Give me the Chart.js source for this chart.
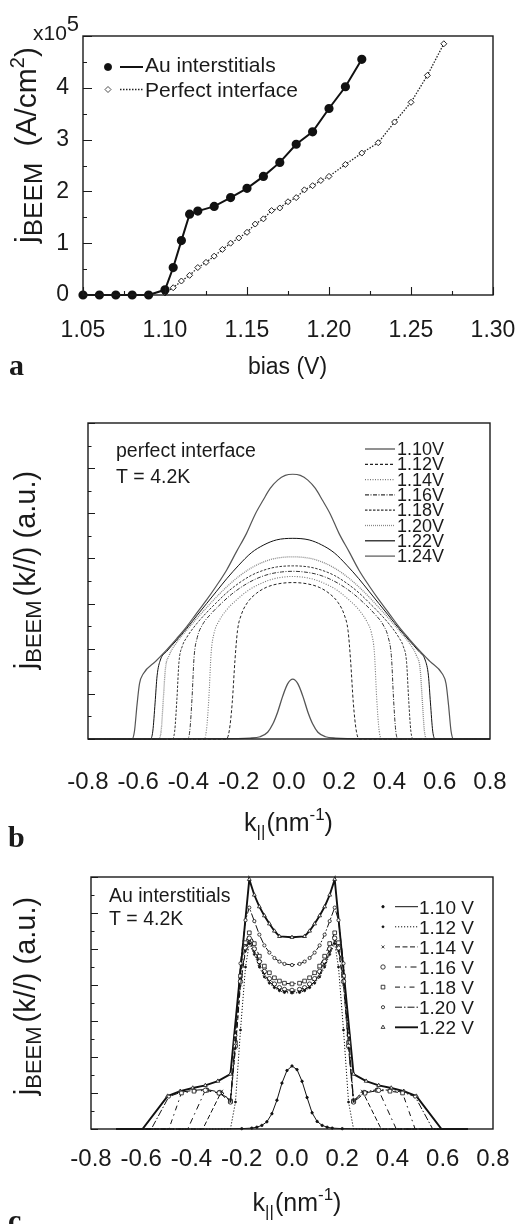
<!DOCTYPE html>
<html><head><meta charset="utf-8">
<script src="https://cdn.jsdelivr.net/npm/chart.js@4.4.1/dist/chart.umd.min.js"></script>
<style>
html,body{margin:0;padding:0;background:#fff;}
#wrap{position:relative;width:531px;height:1224px;overflow:hidden;background:#fff;}
canvas{position:absolute;left:0;}
</style></head><body>
<div id="wrap">
<canvas id="ca" width="531" height="400" style="top:0px"></canvas>
<canvas id="cb" width="531" height="460" style="top:400px"></canvas>
<canvas id="cc" width="531" height="364" style="top:860px"></canvas>
</div>
<script>
// ---------------- DATA ----------------
// Panel a
const seriesA = ['Au interstitials', 'Perfect interface'];
const biasAu = [1.05,1.06,1.07,1.08,1.09,1.10,1.105,1.11,1.115,1.12,1.13,1.14,1.15,1.16,1.17,1.18,1.19,1.20,1.21,1.22];
const jAu    = [0,0,0,0,0,0.1,0.53,1.05,1.56,1.62,1.71,1.88,2.06,2.29,2.56,2.91,3.15,3.60,4.02,4.55];
const biasPerfect = [1.10,1.105,1.11,1.115,1.12,1.125,1.13,1.135,1.14,1.145,1.15,1.155,1.16,1.165,1.17,1.175,1.18,1.185,1.19,1.195,1.20,1.21,1.22,1.23,1.24,1.25,1.26,1.27];
const jPerfect    = [0.04,0.14,0.27,0.38,0.53,0.63,0.75,0.88,1.0,1.1,1.21,1.37,1.47,1.63,1.68,1.8,1.88,2.03,2.11,2.21,2.29,2.52,2.74,2.94,3.34,3.72,4.24,4.85];
const xTicksA = ['1.05','1.10','1.15','1.20','1.25','1.30'];
const yTicksA = ['0','1','2','3','4'];

// Panels b and c share k-axis labels
const kTicks = ['-0.8','-0.6','-0.4','-0.2','0.0','0.2','0.4','0.6','0.8'];

// Panel b (perfect interface)
const voltsB = ['1.10V','1.12V','1.14V','1.16V','1.18V','1.20V','1.22V','1.24V'];
const kB110 = [-0.80,-0.285,-0.155,-0.115,-0.085,-0.065,-0.045,-0.025,-0.005,0.015,0.035,0.055,0.075,0.095,0.115,0.145,0.185,0.315,0.80];
const jB110 = [0,0.01,0.04,0.1,0.3,0.65,1.2,1.9,2.45,2.65,2.45,1.9,1.2,0.65,0.3,0.1,0.04,0.01,0];
const kB112 = [-0.80,-0.25,-0.238,-0.226,-0.215,-0.205,-0.19,-0.165,-0.13,-0.09,-0.04,0.015,0.07,0.12,0.16,0.195,0.22,0.235,0.245,0.256,0.268,0.28,0.80];
const jB112 = [0,0,0.35,1.6,3.5,4.8,5.5,6.05,6.45,6.72,6.88,6.93,6.88,6.72,6.45,6.05,5.5,4.8,3.5,1.6,0.35,0,0];
const kB114 = [-0.80,-0.34,-0.329,-0.319,-0.31,-0.298,-0.28,-0.25,-0.21,-0.16,-0.11,-0.06,0.015,0.09,0.14,0.19,0.24,0.28,0.31,0.328,0.34,0.349,0.359,0.37,0.80];
const jB114 = [0,0,0.35,1.8,3.8,4.7,5.2,5.7,6.15,6.6,6.9,7.1,7.2,7.1,6.9,6.6,6.15,5.7,5.2,4.7,3.8,1.8,0.35,0,0];
const kB116 = [-0.80,-0.405,-0.395,-0.386,-0.378,-0.365,-0.345,-0.31,-0.27,-0.23,-0.18,-0.13,-0.08,-0.03,0.015,0.06,0.11,0.16,0.21,0.26,0.30,0.34,0.375,0.395,0.408,0.416,0.425,0.435,0.80];
const jB116 = [0,0,0.35,1.8,3.6,4.5,5.05,5.55,6.0,6.4,6.8,7.1,7.3,7.4,7.43,7.4,7.3,7.1,6.8,6.4,6.0,5.55,5.05,4.5,3.6,1.8,0.35,0,0];
const kB118 = [-0.80,-0.466,-0.455,-0.446,-0.438,-0.425,-0.407,-0.368,-0.328,-0.288,-0.248,-0.20,-0.15,-0.10,-0.05,0.015,0.08,0.13,0.18,0.23,0.278,0.318,0.358,0.398,0.437,0.455,0.468,0.476,0.485,0.496,0.80];
const jB118 = [0,0,0.35,1.8,3.4,4.1,4.5,5.1,5.6,6.05,6.48,6.9,7.25,7.48,7.62,7.67,7.62,7.48,7.25,6.9,6.48,6.05,5.6,5.1,4.5,4.1,3.4,1.8,0.35,0,0];
const kB120 = [-0.80,-0.52,-0.509,-0.50,-0.492,-0.477,-0.447,-0.407,-0.368,-0.328,-0.288,-0.248,-0.20,-0.15,-0.10,-0.05,0.015,0.08,0.13,0.18,0.23,0.278,0.318,0.358,0.398,0.437,0.477,0.507,0.522,0.53,0.539,0.55,0.80];
const jB120 = [0,0,0.35,1.8,3.1,3.7,4.28,4.82,5.33,5.82,6.3,6.74,7.2,7.58,7.85,8.01,8.07,8.01,7.85,7.58,7.2,6.74,6.3,5.82,5.33,4.82,4.28,3.7,3.1,1.8,0.35,0,0];
const kB122 = [-0.80,-0.552,-0.542,-0.533,-0.525,-0.512,-0.487,-0.447,-0.407,-0.368,-0.328,-0.288,-0.248,-0.20,-0.15,-0.10,-0.05,0.015,0.08,0.13,0.18,0.23,0.278,0.318,0.358,0.398,0.437,0.477,0.517,0.542,0.555,0.563,0.572,0.582,0.80];
const jB122 = [0,0,0.35,1.6,2.8,3.5,3.88,4.38,4.9,5.45,6.0,6.55,7.1,7.7,8.25,8.6,8.82,8.89,8.82,8.6,8.25,7.7,7.1,6.55,6.0,5.45,4.9,4.38,3.88,3.5,2.8,1.6,0.35,0,0];
const kB124 = [-0.80,-0.625,-0.615,-0.605,-0.595,-0.58,-0.53,-0.487,-0.447,-0.407,-0.368,-0.328,-0.288,-0.248,-0.209,-0.169,-0.135,-0.102,-0.075,-0.045,-0.015,0.015,0.045,0.075,0.105,0.132,0.165,0.199,0.239,0.278,0.318,0.358,0.398,0.437,0.477,0.517,0.56,0.61,0.625,0.635,0.645,0.655,0.80];
const jB124 = [0,0,0.35,1.5,2.45,2.89,3.45,3.95,4.45,4.98,5.57,6.16,6.8,7.49,8.3,9.11,9.95,10.6,11.1,11.47,11.68,11.73,11.68,11.47,11.1,10.6,9.95,9.11,8.3,7.49,6.8,6.16,5.57,4.98,4.45,3.95,3.45,2.89,2.45,1.5,0.35,0,0];

// Panel c (Au interstitials)
const voltsC = ['1.10 V','1.12 V','1.14 V','1.16 V','1.18 V','1.20 V','1.22 V'];
const kC110 = [-0.70,-0.50,-0.30,-0.20,-0.16,-0.14,-0.12,-0.10,-0.08,-0.06,-0.04,-0.02,0.00,0.02,0.04,0.06,0.08,0.10,0.12,0.14,0.16,0.20,0.30,0.50,0.70];
const jC110 = [0,0,0,0.02,0.05,0.1,0.2,0.4,0.85,1.6,2.55,3.25,3.5,3.3,2.65,1.75,0.9,0.42,0.2,0.1,0.05,0.02,0,0,0];
const kC112 = [-0.70,-0.50,-0.30,-0.245,-0.225,-0.205,-0.185,-0.17,-0.15,-0.13,-0.11,-0.09,-0.07,-0.05,-0.03,0.00,0.03,0.05,0.07,0.09,0.11,0.13,0.15,0.17,0.185,0.205,0.225,0.245,0.30,0.50,0.70];
const jC112 = [0,0,0,0,1.5,5.5,9.0,10.3,9.7,9.0,8.45,8.1,7.85,7.68,7.58,7.55,7.58,7.68,7.85,8.1,8.45,9.0,9.7,10.3,9.0,5.5,1.5,0,0,0,0];
const kC114 = [-0.70,-0.50,-0.355,-0.28,-0.245,-0.225,-0.205,-0.185,-0.17,-0.15,-0.13,-0.11,-0.09,-0.07,-0.05,-0.03,0.00,0.03,0.05,0.07,0.09,0.11,0.13,0.15,0.17,0.185,0.205,0.225,0.245,0.28,0.355,0.50,0.70];
const jC114 = [0,0,0,2.1,1.5,4.5,8.0,9.9,10.45,9.85,9.15,8.6,8.2,7.92,7.75,7.65,7.62,7.65,7.75,7.92,8.2,8.6,9.15,9.85,10.45,9.9,8.0,4.5,1.5,2.1,0,0,0];
const kC116 = [-0.70,-0.50,-0.415,-0.345,-0.29,-0.245,-0.225,-0.205,-0.185,-0.17,-0.15,-0.13,-0.11,-0.09,-0.07,-0.05,-0.03,0.00,0.03,0.05,0.07,0.09,0.11,0.13,0.15,0.17,0.185,0.205,0.225,0.245,0.29,0.345,0.415,0.50,0.70];
const jC116 = [0,0,0,2.15,2.0,1.5,4.6,8.2,10.05,10.6,10.0,9.3,8.75,8.35,8.05,7.85,7.75,7.7,7.75,7.85,8.05,8.35,8.75,9.3,10.0,10.6,10.05,8.2,4.6,1.5,2.0,2.15,0,0,0];
const kC118 = [-0.70,-0.49,-0.44,-0.39,-0.34,-0.29,-0.245,-0.225,-0.205,-0.185,-0.17,-0.15,-0.13,-0.11,-0.09,-0.07,-0.05,-0.03,0.00,0.03,0.05,0.07,0.09,0.11,0.13,0.15,0.17,0.185,0.205,0.225,0.245,0.29,0.34,0.39,0.44,0.49,0.70];
const jC118 = [0,0,2.0,2.1,2.15,2.0,1.55,4.8,8.5,10.35,10.9,10.3,9.6,9.05,8.68,8.4,8.22,8.1,8.06,8.1,8.22,8.4,8.68,9.05,9.6,10.3,10.9,10.35,8.5,4.8,1.55,2.0,2.15,2.1,2.0,0,0];
const kC120 = [-0.70,-0.56,-0.49,-0.44,-0.39,-0.34,-0.29,-0.245,-0.225,-0.205,-0.185,-0.17,-0.15,-0.13,-0.11,-0.09,-0.07,-0.05,-0.03,0.00,0.03,0.05,0.07,0.09,0.11,0.13,0.15,0.17,0.185,0.205,0.225,0.245,0.29,0.34,0.39,0.44,0.49,0.56,0.70];
const jC120 = [0,0,1.8,2.05,2.15,2.2,2.05,1.6,5.2,9.2,11.6,12.3,11.55,10.8,10.2,9.8,9.5,9.3,9.17,9.11,9.17,9.3,9.5,9.8,10.2,10.8,11.55,12.3,11.6,9.2,5.2,1.6,2.05,2.2,2.15,2.05,1.8,0,0];
const kC122 = [-0.70,-0.64,-0.595,-0.495,-0.445,-0.395,-0.345,-0.295,-0.245,-0.17,-0.15,-0.13,-0.11,-0.09,-0.07,-0.05,0.00,0.05,0.07,0.09,0.11,0.13,0.15,0.17,0.245,0.295,0.345,0.395,0.445,0.495,0.595,0.64,0.70];
const jC122 = [0,0,0,1.83,2.1,2.28,2.42,2.66,3.05,13.87,13.0,12.35,11.85,11.4,11.0,10.7,10.65,10.7,11.0,11.4,11.85,12.35,13.0,13.87,3.05,2.66,2.42,2.28,2.1,1.83,0,0,0];

// ---------------- STYLE ----------------
const FONT = "'Liberation Sans', Arial, Helvetica, sans-serif";
const SERIF = "'Liberation Serif', 'Times New Roman', serif";
const INK = '#1a1a1a';
const stylesB = [
  {c:'#555', w:1.3, d:[]},
  {c:'#222', w:1, d:[3,2]},
  {c:'#777', w:1.1, d:[1,1.5]},
  {c:'#333', w:1, d:[4,1.5,1,1.5]},
  {c:'#333', w:1, d:[2.5,1.5]},
  {c:'#888', w:1.3, d:[1,1]},
  {c:'#111', w:1, d:[]},
  {c:'#555', w:1.2, d:[]}
];
const stylesC = [
  {c:'#111', w:1,   d:[],          ps:'circle',   r:1.2, f:'#111'},
  {c:'#111', w:1,   d:[1.2,1.8],   ps:'circle',   r:1,   f:'#111'},
  {c:'#111', w:1,   d:[5,2.5],     ps:'crossRot', r:2,   f:'#111'},
  {c:'#111', w:1,   d:[6,4,1.5,4], ps:'circle',   r:2.2, f:'#fff'},
  {c:'#111', w:1,   d:[5,4,1.5,4], ps:'rect',     r:2.6, f:'#fff'},
  {c:'#111', w:1,   d:[7,2,1.5,2], ps:'circle',   r:1.6, f:'#fff'},
  {c:'#111', w:1.9, d:[],          ps:'triangle', r:2.2, f:'#fff'}
];

const pts = (xs, ys) => xs.map((x, i) => ({x: x, y: ys[i]}));

function rich(ctx, pieces, x, y, align) {
  let total = 0;
  for (const p of pieces) {
    ctx.font = (p.b ? 'bold ' : '') + p.s + 'px ' + (p.f || FONT);
    p._w = ctx.measureText(p.t).width;
    total += p._w + (p.g || 0);
  }
  let cx = align === 'center' ? x - total / 2 : x;
  for (const p of pieces) {
    cx += (p.g || 0);
    ctx.font = (p.b ? 'bold ' : '') + p.s + 'px ' + (p.f || FONT);
    ctx.fillText(p.t, cx, y + (p.dy || 0));
    cx += p._w;
  }
}
function vText(ctx, pieces, xBase, yCenter) {
  ctx.save();
  ctx.translate(xBase, yCenter);
  ctx.rotate(-Math.PI / 2);
  rich(ctx, pieces, 0, 0, 'center');
  ctx.restore();
}
function frame(chart) {
  const {ctx, chartArea: a} = chart;
  ctx.save();
  ctx.strokeStyle = INK; ctx.lineWidth = 1.4; ctx.setLineDash([]);
  ctx.strokeRect(a.left, a.top, a.right - a.left, a.bottom - a.top);
  ctx.restore();
}
function innerTicks(chart, o) {
  const {ctx, chartArea: a} = chart;
  const xs = chart.scales.x, ys = chart.scales.y;
  ctx.save(); ctx.strokeStyle = INK; ctx.lineWidth = 1.1; ctx.setLineDash([]);
  ctx.beginPath();
  if (o.x) {
    const v = xs.ticks.map(t => t.value);
    v.forEach(val => { const p = Math.round(xs.getPixelForValue(val)) + 0.5; ctx.moveTo(p, a.bottom); ctx.lineTo(p, a.bottom - o.x[0]); });
    for (let i = 0; i < v.length - 1; i++) { const p = Math.round(xs.getPixelForValue((v[i] + v[i+1]) / 2)) + 0.5; ctx.moveTo(p, a.bottom); ctx.lineTo(p, a.bottom - o.x[1]); }
  }
  if (o.y) {
    const v = ys.ticks.map(t => t.value);
    if (o.yMode === 'mid') {
      v.forEach(val => { const p = Math.round(ys.getPixelForValue(val)) + 0.5; ctx.moveTo(a.left, p); ctx.lineTo(a.left + o.y[0], p); });
      for (let i = 0; i < v.length - 1; i++) { const p = Math.round(ys.getPixelForValue((v[i] + v[i+1]) / 2)) + 0.5; ctx.moveTo(a.left, p); ctx.lineTo(a.left + o.y[1], p); }
    } else {
      v.forEach(val => { const p = Math.round(ys.getPixelForValue(val)) + 0.5; const len = (Math.round(val) % 2 === 0) ? o.y[0] : o.y[1]; ctx.moveTo(a.left, p); ctx.lineTo(a.left + len, p); });
    }
  }
  ctx.stroke(); ctx.restore();
}
function drawMarker(ctx, st, x, y) {
  ctx.save();
  ctx.fillStyle = st.f; ctx.strokeStyle = st.c; ctx.lineWidth = 0.8; ctx.setLineDash([]);
  Chart.helpers.drawPoint(ctx, {pointStyle: st.ps, radius: st.r, rotation: 0, borderWidth: 0.8}, x, y);
  ctx.restore();
}

function baseOptions(pad, xCfg, yCfg) {
  return {
    responsive: false, animation: false, devicePixelRatio: 1, events: [],
    layout: {padding: pad, autoPadding: false},
    plugins: {legend: {display: false}, tooltip: {enabled: false}},
    scales: {x: xCfg, y: yCfg}
  };
}

// ---------------- PANEL A ----------------
new Chart(document.getElementById('ca'), {
  type: 'line',
  data: {datasets: [
    {label: seriesA[0], data: pts(biasAu, jAu), borderColor: '#111', borderWidth: 2, tension: 0,
     pointStyle: 'circle', pointRadius: 3.6, pointBackgroundColor: '#111', pointBorderColor: '#111', clip: false},
    {label: seriesA[1], data: pts(biasPerfect, jPerfect), borderColor: '#222', borderWidth: 1.3, borderDash: [1.5, 1.5], tension: 0,
     pointStyle: 'rectRot', pointRadius: 3, pointBackgroundColor: '#fff', pointBorderColor: '#222', pointBorderWidth: 1, clip: false}
  ]},
  options: baseOptions({left: 0, top: 36, right: 38, bottom: 0},
    {type: 'linear', min: 1.05, max: 1.30, grid: {display: false}, border: {display: false},
     ticks: {stepSize: 0.05, padding: 14, color: INK, font: {family: FONT, size: 23}, maxRotation: 0, autoSkip: false,
             callback: (v, i) => xTicksA[i]},
     afterFit: s => { s.height = 105; }},
    {type: 'linear', min: 0, max: 5, grid: {display: false}, border: {display: false},
     ticks: {stepSize: 1, padding: 6, color: INK, font: {family: FONT, size: 23},
             callback: (v, i) => (yTicksA[i] !== undefined ? yTicksA[i] : '')},
     afterFit: s => { s.width = 83; }}),
  plugins: [{id: 'decorA', afterDraw(chart) {
    const ctx = chart.ctx;
    frame(chart);
    innerTicks(chart, {x: [8, 4], y: [9, 4], yMode: 'mid'});
    ctx.save();
    ctx.fillStyle = INK; ctx.textBaseline = 'alphabetic'; ctx.textAlign = 'left';
    // legend
    ctx.font = '21px ' + FONT;
    drawMarker(ctx, {ps: 'circle', r: 3.6, f: '#111', c: '#111'}, 108, 67);
    ctx.strokeStyle = '#111'; ctx.lineWidth = 2; ctx.beginPath(); ctx.moveTo(120, 67); ctx.lineTo(143, 67); ctx.stroke();
    ctx.fillText(seriesA[0], 145, 72);
    drawMarker(ctx, {ps: 'rectRot', r: 3, f: '#fff', c: '#222'}, 108, 89.5);
    ctx.strokeStyle = '#222'; ctx.lineWidth = 1.3; ctx.setLineDash([1.5, 1.5]); ctx.beginPath(); ctx.moveTo(120, 89.5); ctx.lineTo(143, 89.5); ctx.stroke(); ctx.setLineDash([]);
    ctx.fillText(seriesA[1], 145, 96.5);
    // multiplier
    rich(ctx, [{t: 'x10', s: 21}, {t: '5', s: 22, dy: -9}], 33, 40, 'left');
    // y title
    vText(ctx, [{t: 'j', s: 30}, {t: 'BEEM', s: 26, dy: 6}, {t: '(A/cm', s: 30, g: 16}, {t: '2', s: 20, dy: -12}, {t: ')', s: 30}], 36, 145);
    // x title
    rich(ctx, [{t: 'bias (V)', s: 23}], 287.5, 374, 'center');
    // panel letter
    rich(ctx, [{t: 'a', s: 30, b: true, f: SERIF}], 9, 375, 'left');
    ctx.restore();
  }}]
});

// ---------------- PANEL B ----------------
const kB = [kB110, kB112, kB114, kB116, kB118, kB120, kB122, kB124];
const jB = [jB110, jB112, jB114, jB116, jB118, jB120, jB122, jB124];
new Chart(document.getElementById('cb'), {
  type: 'line',
  data: {datasets: voltsB.map((lab, i) => ({
    label: lab, data: pts(kB[i], jB[i]), borderColor: stylesB[i].c, borderWidth: stylesB[i].w, borderDash: stylesB[i].d,
    pointRadius: 0, cubicInterpolationMode: 'monotone', clip: false
  }))},
  options: baseOptions({left: 0, top: 23, right: 41, bottom: 0},
    {type: 'linear', min: -0.8, max: 0.8, grid: {display: false}, border: {display: false},
     ticks: {stepSize: 0.2, padding: 21, color: INK, font: {family: FONT, size: 24}, maxRotation: 0, autoSkip: false,
             callback: (v, i) => kTicks[i]},
     afterFit: s => { s.height = 121; }},
    {type: 'linear', min: 0, max: 14, grid: {display: false}, border: {display: false},
     ticks: {stepSize: 1, display: false},
     afterFit: s => { s.width = 88; }}),
  plugins: [{id: 'decorB', afterDraw(chart) {
    const ctx = chart.ctx;
    frame(chart);
    innerTicks(chart, {y: [7, 3.5], yMode: 'alt'});
    ctx.save();
    ctx.fillStyle = INK; ctx.textBaseline = 'alphabetic'; ctx.textAlign = 'left';
    ctx.font = '19.5px ' + FONT;
    ctx.fillText('perfect interface', 116, 56.5);
    ctx.fillText('T = 4.2K', 116, 83);
    // legend
    ctx.font = '18px ' + FONT;
    voltsB.forEach((lab, i) => {
      const y = 48 + 15.3 * i;
      const st = stylesB[i];
      ctx.strokeStyle = st.c; ctx.lineWidth = Math.max(st.w, 1.2); ctx.setLineDash(st.d);
      ctx.beginPath(); ctx.moveTo(365, y + 1); ctx.lineTo(395, y + 1); ctx.stroke();
      ctx.setLineDash([]);
      ctx.fillText(lab, 397, y + 7);
    });
    vText(ctx, [{t: 'j', s: 29}, {t: 'BEEM', s: 22, dy: 6}, {t: '(k//)', s: 29, g: 4}, {t: '(a.u.)', s: 29, g: 8}], 35, 170);
    rich(ctx, [{t: 'k', s: 25}, {t: '||', s: 17, dy: 6}, {t: '(nm', s: 25, g: 1}, {t: '-1', s: 17, dy: -11}, {t: ')', s: 25}], 288.5, 431, 'center');
    rich(ctx, [{t: 'b', s: 30, b: true, f: SERIF}], 8, 447, 'left');
    ctx.restore();
  }}]
});

// ---------------- PANEL C ----------------
const kC = [kC110, kC112, kC114, kC116, kC118, kC120, kC122];
const jC = [jC110, jC112, jC114, jC116, jC118, jC120, jC122];
new Chart(document.getElementById('cc'), {
  type: 'line',
  data: {datasets: voltsC.map((lab, i) => ({
    label: lab, data: pts(kC[i], jC[i]), borderColor: stylesC[i].c, borderWidth: stylesC[i].w, borderDash: stylesC[i].d,
    tension: 0, pointStyle: stylesC[i].ps,
    pointRadius: c => (c.raw && c.raw.y > 0.01 ? stylesC[i].r : 0),
    pointBackgroundColor: stylesC[i].f,
    pointBorderColor: stylesC[i].c, pointBorderWidth: 0.8, clip: false
  }))},
  options: baseOptions({left: 0, top: 17, right: 38, bottom: 0},
    {type: 'linear', min: -0.8, max: 0.8, grid: {display: false}, border: {display: false},
     ticks: {stepSize: 0.2, padding: 8, color: INK, font: {family: FONT, size: 24}, maxRotation: 0, autoSkip: false,
             callback: (v, i) => kTicks[i]},
     afterFit: s => { s.height = 95; }},
    {type: 'linear', min: 0, max: 14, grid: {display: false}, border: {display: false},
     ticks: {stepSize: 1, display: false},
     afterFit: s => { s.width = 91; }}),
  plugins: [{id: 'decorC', afterDraw(chart) {
    const ctx = chart.ctx;
    frame(chart);
    innerTicks(chart, {y: [7, 3.5], yMode: 'alt'});
    ctx.save();
    ctx.fillStyle = INK; ctx.textBaseline = 'alphabetic'; ctx.textAlign = 'left';
    ctx.font = '19.5px ' + FONT;
    ctx.fillText('Au interstitials', 109, 41.5);
    ctx.fillText('T = 4.2K', 109, 65);
    // legend
    ctx.font = '19px ' + FONT;
    voltsC.forEach((lab, i) => {
      const y = 46.7 + 20.1 * i;
      const st = stylesC[i];
      drawMarker(ctx, st, 383, y);
      ctx.strokeStyle = st.c; ctx.lineWidth = st.w; ctx.setLineDash(st.d);
      ctx.beginPath(); ctx.moveTo(395, y); ctx.lineTo(418, y); ctx.stroke();
      ctx.setLineDash([]);
      ctx.fillStyle = INK;
      ctx.fillText(lab, 419, y + 7);
    });
    vText(ctx, [{t: 'j', s: 29}, {t: 'BEEM', s: 22, dy: 6}, {t: '(k//)', s: 29, g: 4}, {t: '(a.u.)', s: 29, g: 8}], 35, 136);
    rich(ctx, [{t: 'k', s: 25}, {t: '||', s: 17, dy: 6}, {t: '(nm', s: 25, g: 1}, {t: '-1', s: 17, dy: -11}, {t: ')', s: 25}], 297, 351, 'center');
    rich(ctx, [{t: 'c', s: 30, b: true, f: SERIF}], 8, 370, 'left');
    ctx.restore();
  }}]
});
</script>
</body></html>
